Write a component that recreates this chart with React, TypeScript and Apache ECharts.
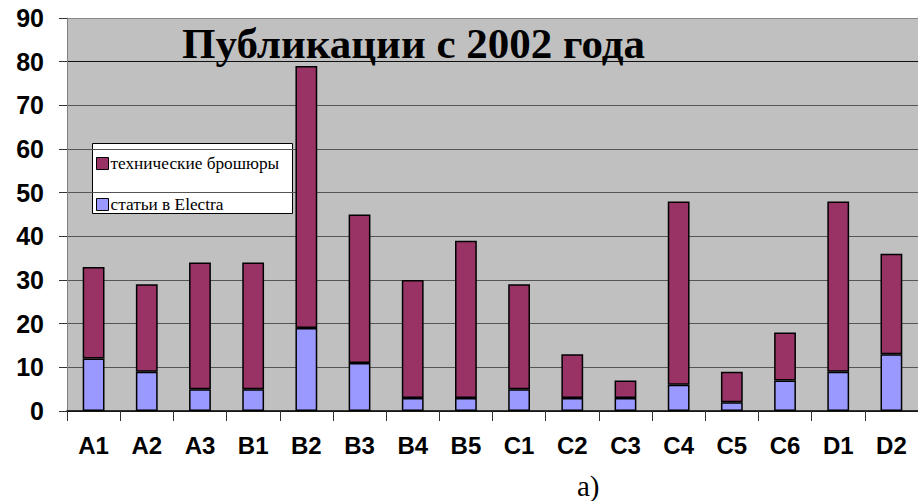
import React, { useEffect, useRef } from "react";
import * as echarts from "echarts";

const categories = ["A1", "A2", "A3", "B1", "B2", "B3", "B4", "B5", "C1", "C2", "C3", "C4", "C5", "C6", "D1", "D2"];
const electraArticles = [12, 9, 5, 5, 19, 11, 3, 3, 5, 3, 3, 6, 2, 7, 9, 13];
const techBrochures = [21, 20, 29, 29, 60, 34, 27, 36, 24, 10, 4, 42, 7, 11, 39, 23];
const seriesNames = ["технические брошюры", "статьи в Electra"];
const seriesColors = ["#993366", "#9999ff"];
const titleText = "Публикации с 2002 года";

export default function App() {
  const ref = useRef<HTMLDivElement>(null);
  useEffect(() => {
    document.body.style.margin = "0";
    const chart = echarts.init(ref.current!, null, { renderer: "svg" });
    const legendFont = "16px 'Liberation Serif', 'DejaVu Serif', serif";
    chart.setOption({
      animation: false,
      backgroundColor: "#ffffff",
      title: {
        text: titleText,
        left: 177,
        top: 17,
        textStyle: { fontFamily: "Liberation Serif", fontWeight: "bold", fontSize: 43, color: "#000" },
      },
      grid: { left: 67, right: 0, top: 18, bottom: 90, containLabel: false, show: true, backgroundColor: "#c0c0c0", borderWidth: 0 },
      xAxis: {
        type: "category",
        data: categories,
        axisLine: { lineStyle: { color: "#000", width: 1.5 } },
        axisTick: { show: true, length: 10, lineStyle: { color: "#333" } },
        axisLabel: { fontFamily: "Liberation Sans", fontWeight: "bold", fontSize: 24, color: "#000", margin: 22 },
      },
      yAxis: {
        type: "value",
        min: 0,
        max: 90,
        interval: 10,
        axisLine: { show: true, lineStyle: { color: "#808080" } },
        axisTick: { show: true, length: 8, lineStyle: { color: "#333" } },
        splitLine: { lineStyle: { color: ["#555", "#555", "#555", "#555", "#555", "#555", "#555", "#555", "#111", "#888"], width: 1 } },
        axisLabel: { fontFamily: "Liberation Sans", fontWeight: "bold", fontSize: 25, color: "#000", margin: 23 },
      },
      series: [
        {
          name: seriesNames[1],
          type: "bar",
          stack: "total",
          data: electraArticles,
          barWidth: "41%",
          itemStyle: { color: seriesColors[1], borderColor: "#000", borderWidth: 1.5 },
        },
        {
          name: seriesNames[0],
          type: "bar",
          stack: "total",
          data: techBrochures,
          barWidth: "41%",
          itemStyle: { color: seriesColors[0], borderColor: "#000", borderWidth: 1.5 },
        },
      ],
      graphic: [
        {
          type: "group",
          left: 92,
          top: 143,
          z: 100,
          children: [
            { type: "rect", shape: { x: 0, y: 0, width: 200, height: 70 }, style: { fill: "#fff", stroke: "#000", lineWidth: 1 } },
            { type: "rect", shape: { x: 4, y: 14, width: 12, height: 12 }, style: { fill: seriesColors[0], stroke: "#000", lineWidth: 1 } },
            { type: "text", x: 18, y: 20, scaleX: 1.08, style: { text: seriesNames[0], font: legendFont, fill: "#000", verticalAlign: "middle" } },
            { type: "rect", shape: { x: 4, y: 55, width: 12, height: 12 }, style: { fill: seriesColors[1], stroke: "#000", lineWidth: 1 } },
            { type: "text", x: 18, y: 61, scaleX: 1.08, style: { text: seriesNames[1], font: legendFont, fill: "#000", verticalAlign: "middle" } },
          ],
        },
        {
          type: "text",
          left: 577,
          top: 471,
          style: { text: "a)", font: "29px 'Liberation Serif'", fill: "#000" },
        },
      ],
    });
    return () => chart.dispose();
  }, []);
  return <div ref={ref} style={{ position: "absolute", left: 0, top: 0, width: 918, height: 501 }} />;
}
